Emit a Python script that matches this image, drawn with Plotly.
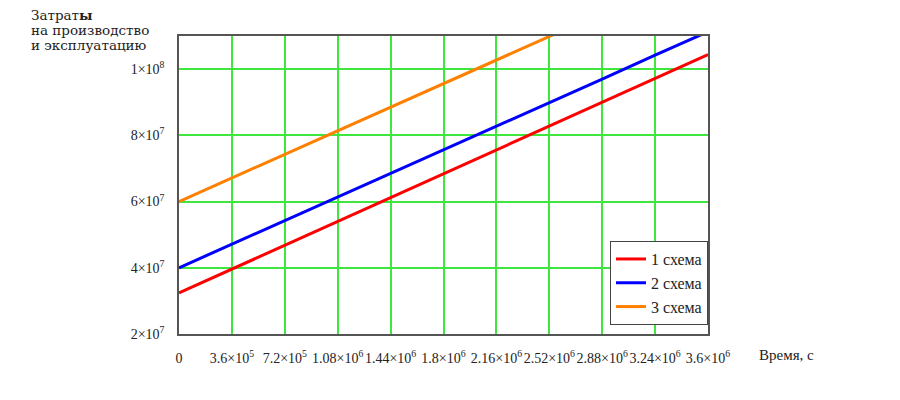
import plotly.graph_objects as go

# Time, s
time_s = [0, 3.6e5, 7.2e5, 1.08e6, 1.44e6, 1.8e6, 2.16e6, 2.52e6, 2.88e6, 3.24e6, 3.6e6]
# Costs
scheme1 = [3.24e7, 3.96e7, 4.68e7, 5.40e7, 6.12e7, 6.84e7, 7.56e7, 8.28e7, 9.00e7, 9.72e7, 1.044e8]
scheme2 = [4.00e7, 4.71e7, 5.43e7, 6.14e7, 6.85e7, 7.56e7, 8.28e7, 8.99e7, 9.70e7, 1.042e8, 1.113e8]
scheme3 = [6.00e7, 6.71e7, 7.43e7, 8.14e7, 8.85e7, 9.56e7, 1.028e8, 1.099e8, 1.170e8, 1.241e8, 1.313e8]
series_names = ["1 схема", "2 схема", "3 схема"]
colors = ["#ff0000", "#0000ff", "#ff8000"]

x_tickvals = [0, 3.6e5, 7.2e5, 1.08e6, 1.44e6, 1.8e6, 2.16e6, 2.52e6, 2.88e6, 3.24e6, 3.6e6]
x_ticktext = ["0", "3.6×10<sup>5</sup>", "7.2×10<sup>5</sup>", "1.08×10<sup>6</sup>",
              "1.44×10<sup>6</sup>", "1.8×10<sup>6</sup>", "2.16×10<sup>6</sup>",
              "2.52×10<sup>6</sup>", "2.88×10<sup>6</sup>", "3.24×10<sup>6</sup>",
              "3.6×10<sup>6</sup>"]
y_tickvals = [2e7, 4e7, 6e7, 8e7, 1e8]
y_ticktext = ["2×10<sup>7</sup>", "4×10<sup>7</sup>", "6×10<sup>7</sup>",
              "8×10<sup>7</sup>", "1×10<sup>8</sup>"]
title_lines = ["Затрат<b>ы</b>", "на производство", "и эксплуатацию"]

FONT = "Liberation Serif, Times New Roman, serif"
TFONT = "DejaVu Serif, serif"

L, R, T, B = 179, 192, 36, 66
PW, PH = 900 - L - R, 400 - T - B

fig = go.Figure()
for name, ys, c in zip(series_names, [scheme1, scheme2, scheme3], colors):
    fig.add_trace(go.Scatter(x=time_s, y=ys, mode="lines", name=name,
                             line=dict(color=c, width=3)))

fig.update_layout(
    width=900, height=400,
    margin=dict(l=L, r=R, t=T, b=B, autoexpand=False),
    paper_bgcolor="white", plot_bgcolor="white",
    font=dict(family=FONT, size=14, color="#222"),
    showlegend=True,
    legend=dict(x=1, xanchor="right", y=0.03, yanchor="bottom",
                bgcolor="white", bordercolor="#444", borderwidth=1,
                font=dict(family=FONT, size=16, color="#222"),
                itemwidth=30, tracegroupgap=0),
)
fig.update_xaxes(range=[0, 3.6e6], tickvals=x_tickvals, ticktext=x_ticktext,
                 showgrid=True, gridcolor="#3ee63e", gridwidth=1.5,
                 showline=True, linecolor="#555", linewidth=1.5, mirror=True,
                 zeroline=False, ticks="", ticklabelstandoff=10, automargin=False,
                 tickangle=0,
                 tickfont=dict(family=FONT, size=14, color="#222"))
fig.update_yaxes(range=[2e7, 1.1e8], tickvals=y_tickvals, ticktext=y_ticktext,
                 showgrid=True, gridcolor="#3ee63e", gridwidth=1.5,
                 showline=True, linecolor="#555", linewidth=1.5, mirror=True,
                 zeroline=False, ticks="", ticklabelstandoff=10, automargin=False,
                 tickfont=dict(family=FONT, size=14, color="#222"))

for i, line in enumerate(title_lines):
    fig.add_annotation(text=line, xref="paper", yref="paper",
                       x=(29 - L) / PW, y=1 + (T - 15 - 15 * i) / PH,
                       xanchor="left", yanchor="middle", showarrow=False, align="left",
                       font=dict(family=TFONT, size=13.5, color="#222"))
fig.add_annotation(text="Время, с", xref="paper", yref="paper",
                   x=1 + (757 - 900 + R) / PW, y=-21 / PH, xanchor="left", yanchor="middle",
                   showarrow=False, font=dict(family=FONT, size=15, color="#222"))

fig.write_html("out.html", config={"displayModeBar": False},
               post_script="document.body.style.margin='0';")
